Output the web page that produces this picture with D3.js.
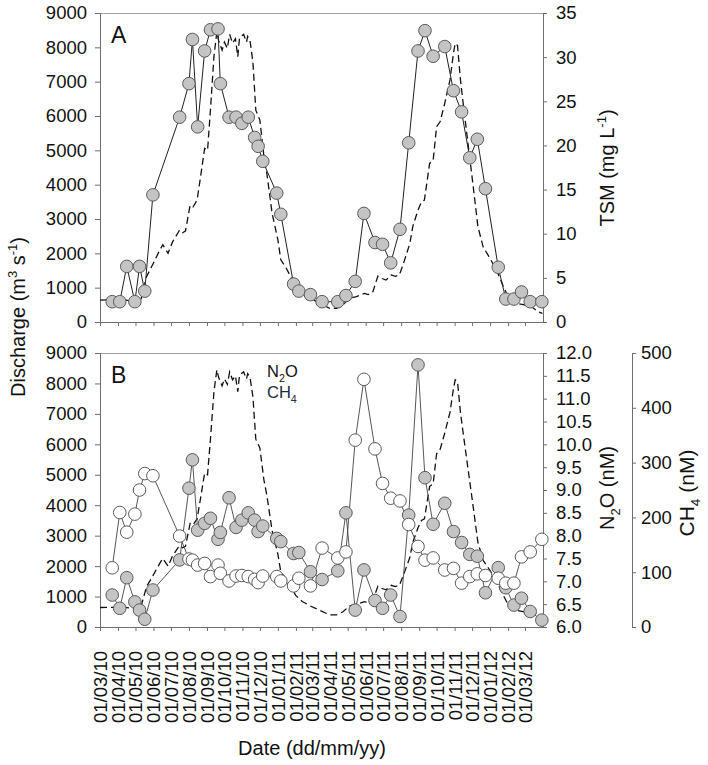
<!DOCTYPE html>
<html><head><meta charset="utf-8">
<script src="https://cdn.jsdelivr.net/npm/d3@7"></script>
<style>
body{margin:0;background:#fff}
text{font-family:"Liberation Sans",Arial,Helvetica,sans-serif;fill:#111}
</style>
</head><body>
<svg id="c" width="708" height="765"></svg>
<script>
// ---- Data ----
const sampleDates = ["2010-03-22","2010-04-04","2010-04-16","2010-04-30","2010-05-08","2010-05-17","2010-05-31","2010-07-16","2010-08-01","2010-08-07","2010-08-16","2010-08-28","2010-09-07","2010-09-20","2010-09-24","2010-10-09","2010-10-21","2010-10-31","2010-11-11","2010-11-22","2010-11-28","2010-12-06","2010-12-30","2011-01-06","2011-01-28","2011-02-06","2011-02-26","2011-03-18","2011-04-14","2011-04-28","2011-05-14","2011-05-29","2011-06-17","2011-06-30","2011-07-14","2011-07-30","2011-08-14","2011-08-30","2011-09-11","2011-09-25","2011-10-15","2011-10-30","2011-11-13","2011-11-27","2011-12-10","2011-12-24","2012-01-15","2012-01-28","2012-02-11","2012-02-24","2012-03-10","2012-03-30"];
const tsm = [2.3,2.3,6.3,2.3,6.3,3.5,14.4,23.2,27.0,32.0,22.1,30.7,33.1,33.2,27.0,23.2,23.2,22.5,23.2,20.9,19.9,18.2,14.6,12.2,4.3,3.5,3.1,2.3,2.3,3.0,4.6,12.3,9.0,8.8,6.7,10.5,20.3,30.7,33.0,30.1,31.2,26.2,23.8,18.6,20.7,15.1,6.2,2.6,2.6,3.4,2.3,2.3];
const n2o = [6.70,6.41,7.08,6.55,6.37,6.17,6.81,7.47,9.04,9.66,8.12,8.27,8.38,7.92,8.07,8.83,8.18,8.34,8.50,8.34,8.09,8.21,7.94,7.87,7.61,7.63,7.21,7.04,7.23,8.50,6.37,7.25,6.58,6.41,6.70,6.23,8.45,11.74,9.27,8.25,8.71,8.09,7.85,7.59,7.55,6.75,7.30,6.86,6.48,6.63,6.34,6.15];
const ch4 = [108,209,173,206,250,280,276,166,124,122,113,116,92,113,98,84,93,94,92,87,81,93,92,84,75,89,75,144,126,137,341,452,325,262,235,230,187,147,122,126,104,107,80,92,97,94,89,80,80,128,137,160];
const qDates = ["2010-03-01","2010-04-10","2010-04-30","2010-05-09","2010-05-20","2010-06-01","2010-06-12","2010-06-17","2010-06-26","2010-07-04","2010-07-16","2010-07-21","2010-07-26","2010-08-03","2010-08-08","2010-08-15","2010-08-21","2010-08-28","2010-09-02","2010-09-07","2010-09-13","2010-09-18","2010-09-21","2010-09-27","2010-10-01","2010-10-06","2010-10-10","2010-10-15","2010-10-20","2010-10-24","2010-10-27","2010-11-03","2010-11-08","2010-11-10","2010-11-14","2010-11-19","2010-11-24","2010-12-01","2010-12-08","2010-12-13","2010-12-22","2011-01-01","2011-01-06","2011-01-14","2011-01-23","2011-02-01","2011-02-12","2011-02-26","2011-03-14","2011-03-31","2011-04-12","2011-04-23","2011-05-04","2011-05-16","2011-05-30","2011-06-05","2011-06-13","2011-06-22","2011-06-27","2011-07-06","2011-07-15","2011-07-22","2011-07-29","2011-08-07","2011-08-16","2011-08-21","2011-08-30","2011-09-05","2011-09-10","2011-09-19","2011-09-25","2011-10-01","2011-10-07","2011-10-15","2011-10-24","2011-10-30","2011-11-02","2011-11-06","2011-11-11","2011-11-17","2011-11-24","2011-12-03","2011-12-11","2011-12-20","2012-01-01","2012-01-12","2012-01-24","2012-02-05","2012-02-16","2012-02-29","2012-03-12","2012-03-23","2012-03-31"];
const qValues = [640,650,600,560,1320,1720,2100,2250,2000,2340,2680,2600,2650,3400,3350,3550,4230,5060,5000,6180,7730,8450,8200,7920,8150,7970,8380,8120,8250,7730,8280,8380,8150,8320,8200,7570,6170,5880,4820,4330,3170,2390,1810,1610,1320,1030,835,690,545,400,400,500,690,740,835,800,860,1340,1280,1220,1370,1330,1370,1810,2290,2780,3260,3500,3550,4620,4700,5690,5830,6370,7050,7830,8120,8050,7050,6180,5200,3940,2780,2190,1850,1510,1030,590,545,500,450,300,250];
const qTicks = [0,1000,2000,3000,4000,5000,6000,7000,8000,9000];
const tsmTicks = [0,5,10,15,20,25,30,35];
const n2oTicks = [6.0,6.5,7.0,7.5,8.0,8.5,9.0,9.5,10.0,10.5,11.0,11.5,12.0];
const ch4Ticks = [0,100,200,300,400,500];

// ---- Setup ----
const parse = d3.timeParse("%Y-%m-%d");
const sd = sampleDates.map(parse);
const qd = qDates.map(parse);
const svg = d3.select("#c");
const L = 100, R = 543;
const A = {top: 13, bottom: 322}, B = {top: 353, bottom: 627};
const FS = 18.5;

const x = d3.scaleTime().domain([new Date(2010,2,1), new Date(2012,3,1)]).range([L, R]);
const monthTicks = d3.timeMonth.range(new Date(2010,2,1), new Date(2012,2,2));
const yQA = d3.scaleLinear().domain([0,9000]).range([A.bottom, A.top]);
const yTSM = d3.scaleLinear().domain([0,35]).range([A.bottom, A.top]);
const yQB = d3.scaleLinear().domain([0,9000]).range([B.bottom, B.top]);
const yN = d3.scaleLinear().domain([6,12]).range([B.bottom, B.top]);
const yC = d3.scaleLinear().domain([0,500]).range([B.bottom, B.top]);

const AX = "#6e6e6e";
function styleAxis(g, fs) {
  g.select(".domain").attr("stroke", AX).attr("stroke-width", 1);
  g.selectAll(".tick line").attr("stroke", AX).attr("stroke-width", 1);
  g.selectAll(".tick text").style("font-size", fs + "px").attr("fill", "#111");
}

function panel(p, yQ) {
  svg.append("line").attr("x1", L).attr("x2", R).attr("y1", p.top + 0.5).attr("y2", p.top + 0.5)
    .attr("stroke", "#a0a0a0").attr("stroke-width", 1);
  const gl = svg.append("g").attr("transform", `translate(${L},0)`)
    .call(d3.axisLeft(yQ).tickValues(qTicks).tickFormat(d3.format("d")).tickSize(5).tickSizeOuter(0).tickPadding(8));
  styleAxis(gl, FS);
  const gb = svg.append("g").attr("transform", `translate(0,${p.bottom})`)
    .call(d3.axisBottom(x).tickValues(monthTicks).tickSize(4).tickSizeOuter(0).tickFormat(""));
  styleAxis(gb, FS);
  return gb;
}

// ---- Panel A ----
panel(A, yQA);
const gr = svg.append("g").attr("transform", `translate(${R},0)`)
  .call(d3.axisRight(yTSM).tickValues(tsmTicks).tickSize(4).tickSizeOuter(0).tickPadding(9));
styleAxis(gr, FS);

const qLineA = d3.line().x((d,i) => x(qd[i])).y(d => yQA(d));
svg.append("path").datum(qValues).attr("d", qLineA).attr("fill","none")
  .attr("stroke","#111").attr("stroke-width",1.3).attr("stroke-dasharray","7,4");
const tsmLine = d3.line().x((d,i) => x(sd[i])).y(d => yTSM(d));
svg.append("path").datum(tsm).attr("d", tsmLine).attr("fill","none").attr("stroke","#222").attr("stroke-width",1);
svg.append("g").selectAll("circle").data(tsm).join("circle")
  .attr("cx",(d,i)=>x(sd[i])).attr("cy",d=>yTSM(d)).attr("r",6.3)
  .attr("fill","#c4c4c4").attr("stroke","#5a5a5a").attr("stroke-width",1);

// ---- Panel B ----
const gbB = panel(B, yQB);
gbB.selectAll(".tick text")
  .text(d => d3.timeFormat("%d/%m/%y")(d))
  .attr("transform","rotate(-90)").attr("x",-24).attr("y",0).attr("dy","0.35em")
  .style("text-anchor","end").style("font-size","18.5px");

const gn = svg.append("g").attr("transform", `translate(${R},0)`)
  .call(d3.axisRight(yN).tickValues(n2oTicks).tickFormat(d3.format(".1f")).tickSize(4).tickSizeOuter(0).tickPadding(9));
styleAxis(gn, FS);
const gc = svg.append("g").attr("transform", `translate(632,0)`)
  .call(d3.axisRight(yC).tickValues(ch4Ticks).tickSize(4).tickSizeOuter(0).tickPadding(5));
styleAxis(gc, FS);

const qLineB = d3.line().x((d,i) => x(qd[i])).y(d => yQB(d));
svg.append("path").datum(qValues).attr("d", qLineB).attr("fill","none")
  .attr("stroke","#111").attr("stroke-width",1.3).attr("stroke-dasharray","7,4");

const nLine = d3.line().x((d,i) => x(sd[i])).y(d => yN(d));
const cLine = d3.line().x((d,i) => x(sd[i])).y(d => yC(d));
svg.append("path").datum(n2o).attr("d", nLine).attr("fill","none").attr("stroke","#444").attr("stroke-width",0.9);
svg.append("path").datum(ch4).attr("d", cLine).attr("fill","none").attr("stroke","#444").attr("stroke-width",0.9);
svg.append("g").selectAll("circle").data(n2o).join("circle")
  .attr("cx",(d,i)=>x(sd[i])).attr("cy",d=>yN(d)).attr("r",6.3)
  .attr("fill","#c4c4c4").attr("stroke","#5a5a5a").attr("stroke-width",1);
svg.append("g").selectAll("circle").data(ch4).join("circle")
  .attr("cx",(d,i)=>x(sd[i])).attr("cy",d=>yC(d)).attr("r",6.3)
  .attr("fill","#fff").attr("stroke","#5a5a5a").attr("stroke-width",1);

// ---- Texts ----
svg.append("text").attr("x",111).attr("y",43).style("font-size","23px").text("A");
svg.append("text").attr("x",111).attr("y",383).style("font-size","23px").text("B");

function richText(t, parts, fs) {
  let shift = 0;
  parts.forEach(([s, k]) => {
    const target = k === "sup" ? -0.42*fs : k === "sub" ? 0.28*fs : 0;
    const ts = t.append("tspan").attr("dy", target - shift).text(s);
    if (k) ts.style("font-size", (fs*0.65) + "px");
    shift = target;
  });
}

const t1 = svg.append("text").attr("transform","translate(25,317) rotate(-90)")
  .attr("text-anchor","middle").style("font-size","20px");
richText(t1, [["Discharge (m",null],["3","sup"],[" s",null],["-1","sup"],[")",null]], 20);

const t2 = svg.append("text").attr("transform","translate(614,168) rotate(-90)")
  .attr("text-anchor","middle").style("font-size","20px");
richText(t2, [["TSM (mg L",null],["-1","sup"],[")",null]], 20);

const t3 = svg.append("text").attr("transform","translate(614,488) rotate(-90)")
  .attr("text-anchor","middle").style("font-size","20px");
richText(t3, [["N",null],["2","sub"],["O (nM)",null]], 20);

const t4 = svg.append("text").attr("transform","translate(694,493) rotate(-90)")
  .attr("text-anchor","middle").style("font-size","21px");
richText(t4, [["CH",null],["4","sub"],[" (nM)",null]], 21);

svg.append("text").attr("x",312).attr("y",755).attr("text-anchor","middle")
  .style("font-size","20px").text("Date (dd/mm/yy)");

const l1 = svg.append("text").attr("x",267).attr("y",377).style("font-size","16.5px");
richText(l1, [["N",null],["2","sub"],["O",null]], 16.5);
const l2 = svg.append("text").attr("x",267).attr("y",398).style("font-size","16.5px").style("fill","#1c2a44");
richText(l2, [["CH",null],["4","sub"]], 16.5);
</script>
</body></html>
